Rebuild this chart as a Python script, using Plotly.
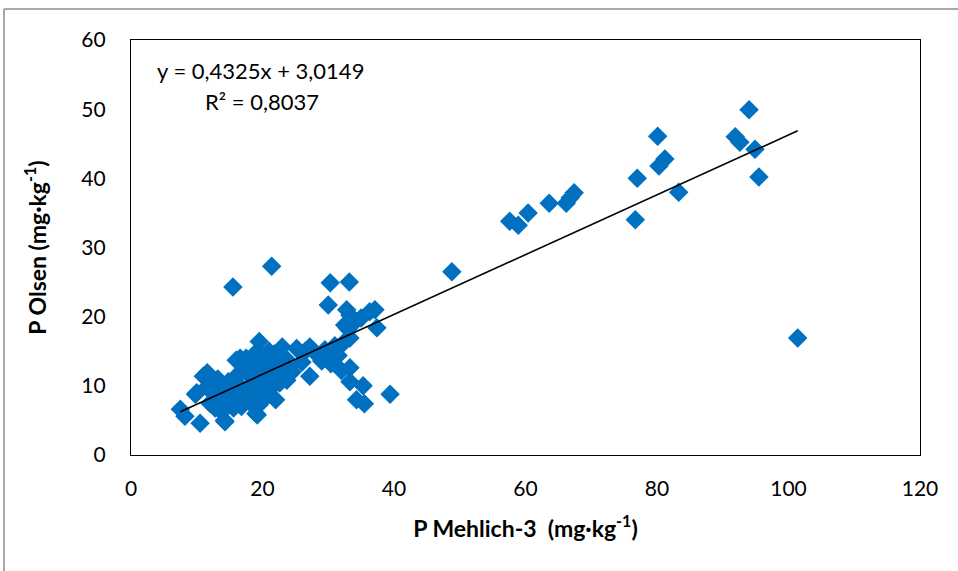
import plotly.graph_objects as go

# Data (P Mehlich-3 vs P Olsen, mg/kg)
mehlich3 = [
    7.5, 8.2, 10.5, 9.8, 11.0, 11.5, 12.0, 12.5, 13.0, 13.2, 13.8, 14.2, 14.5, 14.8,
    15.0, 15.3, 15.8, 16.0, 16.5, 16.8, 17.0, 17.3, 17.5, 17.8, 18.0, 18.3, 18.5, 18.8,
    19.0, 19.2, 19.5, 19.6, 19.8, 20.0, 20.3, 20.5, 20.8, 21.0, 21.3, 21.5, 21.8, 22.0,
    22.3, 22.5, 23.0, 23.5, 23.7, 24.0, 25.2, 26.5, 27.2, 27.2, 28.0, 29.0, 29.5, 30.0,
    30.4, 30.6, 31.0, 31.5, 32.0, 32.3, 32.5, 32.8, 33.0, 33.3, 33.3, 33.3, 33.3, 34.0,
    34.3, 35.0, 35.3, 35.5, 36.3, 37.1, 37.4, 39.4, 30.3, 33.2, 30.0, 21.4, 15.5, 19.2,
    14.3, 16.6, 11.6, 10.0, 12.2, 13.5, 15.6, 17.2, 18.6, 19.4, 20.6, 21.2, 22.6, 16.2,
    14.0, 12.8, 18.2, 20.2, 24.5, 26.0,
    48.8, 57.6, 58.9, 60.4, 63.6, 66.2, 66.8, 67.4, 76.7, 77.0, 80.1, 80.3, 81.2, 83.3,
    91.9, 92.6, 94.0, 94.9, 95.5, 101.4,
]
olsen = [
    6.6, 5.6, 4.6, 8.8, 11.4, 9.8, 7.5, 10.4, 8.4, 11.0, 6.2, 5.0, 9.2, 10.6,
    7.8, 8.8, 11.2, 13.7, 10.0, 7.0, 12.2, 8.2, 14.0, 9.6, 11.5, 7.4, 13.0, 10.4,
    6.0, 15.0, 16.4, 12.4, 8.6, 14.2, 11.0, 9.4, 13.6, 15.0, 12.0, 10.2, 14.6, 8.0,
    13.0, 11.6, 15.6, 14.0, 10.8, 12.6, 15.4, 15.0, 15.6, 11.4, 14.8, 13.6, 15.2, 14.0,
    13.2, 14.7, 15.8, 14.4, 12.2, 16.2, 18.8, 21.0, 18.2, 20.2, 16.9, 12.6, 10.6, 19.2,
    8.0, 19.8, 10.0, 7.4, 20.7, 21.0, 18.4, 8.8, 24.9, 25.0, 21.7, 27.3, 24.3, 5.8,
    4.8, 14.0, 11.9, 9.0, 9.4, 9.8, 6.8, 9.0, 8.0, 7.2, 8.4, 9.6, 10.4, 8.6,
    7.6, 6.8, 12.8, 12.0, 12.0, 13.4,
    26.5, 33.8, 33.2, 35.0, 36.4, 36.4, 37.2, 37.9, 34.0, 40.0, 46.1, 41.8, 42.8, 38.0,
    46.0, 45.2, 49.9, 44.2, 40.2, 16.9,
]

slope = 0.4325
intercept = 3.0149
r2 = 0.8037
fit_x = [min(mehlich3), max(mehlich3)]
fit_y = [slope * v + intercept for v in fit_x]

x_ticks = [0, 20, 40, 60, 80, 100, 120]
y_ticks = [0, 10, 20, 30, 40, 50, 60]

FONT = "Lato"

fig = go.Figure()
fig.add_trace(go.Scatter(
    x=mehlich3, y=olsen, mode="markers",
    marker=dict(symbol="diamond", size=15, color="#0070C0", line=dict(width=0)),
    showlegend=False, hoverinfo="x+y",
))
fig.add_trace(go.Scatter(
    x=fit_x, y=fit_y, mode="lines",
    line=dict(color="black", width=1.6), showlegend=False, hoverinfo="skip",
))

fig.update_layout(
    width=958, height=571,
    margin=dict(l=131, r=38, t=40, b=116),
    paper_bgcolor="white", plot_bgcolor="white",
    font=dict(family=FONT, size=21, color="black"),
    xaxis=dict(
        range=[0, 120], tickvals=x_ticks, ticktext=[str(v) for v in x_ticks],
        showgrid=False, zeroline=False, showline=True, linecolor="black",
        linewidth=1.2, mirror=True, ticks="", ticklabelstandoff=15,
        title=dict(text="<b>P Mehlich-3  (mg·kg<sup>-1</sup>)</b>",
                   font=dict(size=23), standoff=21),
    ),
    yaxis=dict(
        range=[0, 60], tickvals=y_ticks, ticktext=[str(v) for v in y_ticks],
        showgrid=False, zeroline=False, showline=True, linecolor="black",
        linewidth=1.2, mirror=True, ticks="", ticklabelstandoff=20,
        title=dict(text="<b>P Olsen (mg·kg<sup>-1</sup>)</b>",
                   font=dict(size=23), standoff=28),
    ),
    shapes=[
        dict(type="line", xref="paper", yref="paper",
             x0=(4 - 131) / 789, x1=(4 - 131) / 789, y0=(455 - 9) / 415, y1=-(571 - 455) / 415 - 0.01,
             line=dict(color="#8c8c8c", width=1.5)),
        dict(type="line", xref="paper", yref="paper",
             x0=(4 - 131) / 789, x1=(958 - 131) / 789 + 0.01, y0=(455 - 9) / 415, y1=(455 - 9) / 415,
             line=dict(color="#8c8c8c", width=1.5)),
    ],
)

fig.add_annotation(
    xref="paper", yref="paper", x=(155 - 131) / 789, y=(455 - 70) / 415,
    xanchor="left", yanchor="middle", showarrow=False,
    text=f"y = {str(slope).replace('.', ',')}x + {str(intercept).replace('.', ',')}",
    font=dict(family=FONT, size=22, color="black"),
)
fig.add_annotation(
    xref="paper", yref="paper", x=(203 - 131) / 789, y=(455 - 101) / 415,
    xanchor="left", yanchor="middle", showarrow=False,
    text=f"R² = {str(r2).replace('.', ',')}",
    font=dict(family=FONT, size=22, color="black"),
)

fig.write_html("out.html", post_script="document.body.style.margin='0';",
               config={"displayModeBar": False})
